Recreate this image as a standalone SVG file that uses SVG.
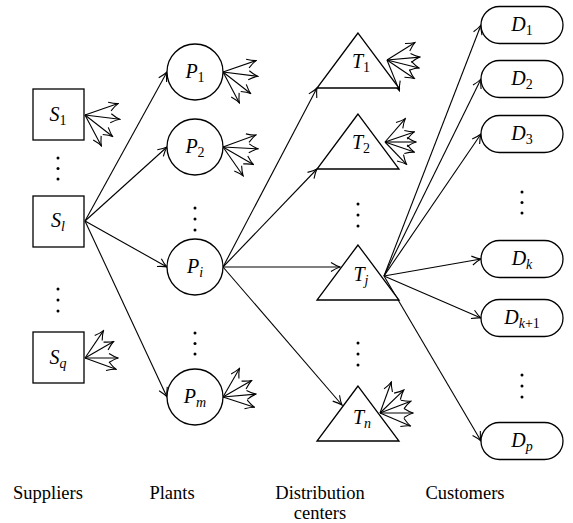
<svg xmlns="http://www.w3.org/2000/svg" width="573" height="523" viewBox="0 0 573 523">
<style>
.nd{fill:#fff;stroke:#000;stroke-width:1.3}
.ln{stroke:#000;stroke-width:1.1;fill:none;marker-end:url(#ah)}
.lb{font-family:'Liberation Serif','Times New Roman','DejaVu Serif',serif;font-size:20px;font-style:italic;text-anchor:middle;fill:#000}
.sb{font-size:14px}
.up{font-style:normal}
.cap{font-family:'Liberation Serif','Times New Roman','DejaVu Serif',serif;font-size:18.5px;text-anchor:middle;fill:#000}
.dot{fill:#000}
</style>
<defs>
<marker id="ah" viewBox="-11 -6 12 12" markerWidth="12" markerHeight="12" refX="0" refY="0" orient="auto" markerUnits="userSpaceOnUse">
<path d="M-9,-4.5 Q-3.5,-1 0,0 Q-3.5,1 -9,4.5" fill="none" stroke="#000" stroke-width="1.1"/>
</marker>
</defs>

<g id="connectors">
<line class="ln" x1="85" y1="221" x2="167" y2="72"/>
<line class="ln" x1="85" y1="221" x2="167" y2="147"/>
<line class="ln" x1="85" y1="221" x2="167" y2="267"/>
<line class="ln" x1="85" y1="221" x2="167" y2="397"/>
<line class="ln" x1="223" y1="267" x2="317" y2="88"/>
<line class="ln" x1="223" y1="267" x2="317" y2="169"/>
<line class="ln" x1="223" y1="267" x2="340" y2="267"/>
<line class="ln" x1="223" y1="267" x2="342" y2="405"/>
<line class="ln" x1="384" y1="276" x2="481" y2="25"/>
<line class="ln" x1="384" y1="276" x2="481" y2="79"/>
<line class="ln" x1="384" y1="276" x2="481" y2="134"/>
<line class="ln" x1="384" y1="276" x2="481" y2="259"/>
<line class="ln" x1="384" y1="276" x2="481" y2="318"/>
<line class="ln" x1="384" y1="276" x2="481" y2="441"/>
<g id="fan-S1">
<line class="ln" x1="85" y1="115" x2="118.1" y2="103.6"/>
<line class="ln" x1="85" y1="115" x2="119.7" y2="119.3"/>
<line class="ln" x1="85" y1="115" x2="112.6" y2="136.5"/>
<line class="ln" x1="85" y1="115" x2="101.4" y2="145.9"/>
</g>
<g id="fan-Sq">
<line class="ln" x1="85" y1="358" x2="103.5" y2="330.6"/>
<line class="ln" x1="85" y1="358" x2="113.6" y2="341.5"/>
<line class="ln" x1="85" y1="358" x2="118" y2="358"/>
<line class="ln" x1="85" y1="358" x2="116" y2="369.3"/>
</g>
<g id="fan-P1">
<line class="ln" x1="223" y1="72" x2="256.1" y2="60.6"/>
<line class="ln" x1="223" y1="72" x2="257.7" y2="76.3"/>
<line class="ln" x1="223" y1="72" x2="250.6" y2="93.5"/>
<line class="ln" x1="223" y1="72" x2="239.4" y2="102.9"/>
</g>
<g id="fan-P2">
<line class="ln" x1="223" y1="147" x2="255.9" y2="135"/>
<line class="ln" x1="223" y1="147" x2="258" y2="148.8"/>
<line class="ln" x1="223" y1="147" x2="253.3" y2="164.5"/>
<line class="ln" x1="223" y1="147" x2="243.1" y2="175.7"/>
</g>
<g id="fan-Pm">
<line class="ln" x1="223" y1="397" x2="239.5" y2="368.4"/>
<line class="ln" x1="223" y1="397" x2="251.6" y2="380.5"/>
<line class="ln" x1="223" y1="397" x2="255.9" y2="394.1"/>
<line class="ln" x1="223" y1="397" x2="254.4" y2="407.2"/>
</g>
<g id="fan-T1">
<line class="ln" x1="387" y1="60" x2="415" y2="42.5"/>
<line class="ln" x1="387" y1="60" x2="419.9" y2="57.1"/>
<line class="ln" x1="387" y1="60" x2="419" y2="68"/>
<line class="ln" x1="387" y1="60" x2="414.4" y2="78.5"/>
<line class="ln" x1="387" y1="60" x2="399.4" y2="90.6"/>
</g>
<g id="fan-T2">
<line class="ln" x1="385" y1="142" x2="405.3" y2="118.6"/>
<line class="ln" x1="385" y1="142" x2="414.3" y2="131.9"/>
<line class="ln" x1="385" y1="142" x2="416" y2="142"/>
<line class="ln" x1="385" y1="142" x2="414.3" y2="152.1"/>
<line class="ln" x1="385" y1="142" x2="406.5" y2="164.3"/>
</g>
<g id="fan-Tn">
<line class="ln" x1="380" y1="413" x2="391.3" y2="382"/>
<line class="ln" x1="380" y1="413" x2="403.7" y2="390.1"/>
<line class="ln" x1="380" y1="413" x2="410.8" y2="401.2"/>
<line class="ln" x1="380" y1="413" x2="413" y2="413"/>
<line class="ln" x1="380" y1="413" x2="410.4" y2="425.9"/>
</g>
</g>

<g id="S1"><rect class="nd" x="33" y="89" width="51" height="51"/><text class="lb" x="58" y="121" font-family="Liberation Serif, serif">S<tspan class="sb up" dy="4">1</tspan></text></g>
<g id="Sl"><rect class="nd" x="33" y="196" width="51" height="51"/><text class="lb" x="58" y="227" font-family="Liberation Serif, serif">S<tspan class="sb" dy="4">l</tspan></text></g>
<g id="Sq"><rect class="nd" x="33" y="332" width="51" height="51"/><text class="lb" x="58" y="364" font-family="Liberation Serif, serif">S<tspan class="sb" dy="4">q</tspan></text></g>
<g id="S-dots"><circle class="dot" cx="58" cy="158" r="1.5"/><circle class="dot" cx="58" cy="168.5" r="1.5"/><circle class="dot" cx="58" cy="179" r="1.5"/><circle class="dot" cx="58" cy="289" r="1.5"/><circle class="dot" cx="58" cy="300" r="1.5"/><circle class="dot" cx="58" cy="311" r="1.5"/></g>

<g id="P1"><circle class="nd" cx="195" cy="72" r="28"/><text class="lb" x="195" y="78">P<tspan class="sb up" dy="4">1</tspan></text></g>
<g id="P2"><circle class="nd" cx="195" cy="147" r="28"/><text class="lb" x="195" y="153">P<tspan class="sb up" dy="4">2</tspan></text></g>
<g id="Pi"><circle class="nd" cx="195" cy="267" r="28"/><text class="lb" x="195" y="273">P<tspan class="sb" dy="4">i</tspan></text></g>
<g id="Pm"><circle class="nd" cx="195" cy="397" r="28"/><text class="lb" x="195" y="403">P<tspan class="sb" dy="4">m</tspan></text></g>
<g id="P-dots"><circle class="dot" cx="195" cy="208" r="1.5"/><circle class="dot" cx="195" cy="219" r="1.5"/><circle class="dot" cx="195" cy="230" r="1.5"/><circle class="dot" cx="195" cy="333" r="1.5"/><circle class="dot" cx="195" cy="343.5" r="1.5"/><circle class="dot" cx="195" cy="354" r="1.5"/></g>

<g id="T1"><polygon class="nd" points="358,33 317,88 399,88"/><text class="lb" x="361" y="68">T<tspan class="sb up" dy="4">1</tspan></text></g>
<g id="T2"><polygon class="nd" points="358,114 317,169 399,169"/><text class="lb" x="361" y="149">T<tspan class="sb up" dy="4">2</tspan></text></g>
<g id="Tj"><polygon class="nd" points="358,245 317,300 399,300"/><text class="lb" x="361" y="281">T<tspan class="sb" dy="4">j</tspan></text></g>
<g id="Tn"><polygon class="nd" points="358,386 317,441 399,441"/><text class="lb" x="362" y="424">T<tspan class="sb" dy="4">n</tspan></text></g>
<g id="T-dots"><circle class="dot" cx="358" cy="204" r="1.5"/><circle class="dot" cx="358" cy="215" r="1.5"/><circle class="dot" cx="358" cy="226" r="1.5"/><circle class="dot" cx="358" cy="343" r="1.5"/><circle class="dot" cx="358" cy="354" r="1.5"/><circle class="dot" cx="358" cy="365" r="1.5"/></g>

<g id="D1"><rect class="nd" x="481" y="6.5" width="82" height="37" rx="18.5"/><text class="lb" x="522" y="31">D<tspan class="sb up" dy="4">1</tspan></text></g>
<g id="D2"><rect class="nd" x="481" y="60.5" width="82" height="37" rx="18.5"/><text class="lb" x="522" y="85">D<tspan class="sb up" dy="4">2</tspan></text></g>
<g id="D3"><rect class="nd" x="481" y="115.5" width="82" height="37" rx="18.5"/><text class="lb" x="522" y="140">D<tspan class="sb up" dy="4">3</tspan></text></g>
<g id="Dk"><rect class="nd" x="481" y="240.5" width="82" height="37" rx="18.5"/><text class="lb" x="522" y="265">D<tspan class="sb" dy="4">k</tspan></text></g>
<g id="Dk1"><rect class="nd" x="481" y="299.5" width="82" height="37" rx="18.5"/><text class="lb" x="522" y="324">D<tspan class="sb" dy="4">k</tspan><tspan class="sb up">+1</tspan></text></g>
<g id="Dp"><rect class="nd" x="481" y="422.5" width="82" height="37" rx="18.5"/><text class="lb" x="522" y="447">D<tspan class="sb" dy="4">p</tspan></text></g>
<g id="D-dots"><circle class="dot" cx="522" cy="192" r="1.5"/><circle class="dot" cx="522" cy="202.5" r="1.5"/><circle class="dot" cx="522" cy="213" r="1.5"/><circle class="dot" cx="522" cy="375" r="1.5"/><circle class="dot" cx="522" cy="386" r="1.5"/><circle class="dot" cx="522" cy="397" r="1.5"/></g>

<g id="captions">
<text class="cap" x="48" y="499">Suppliers</text>
<text class="cap" x="172" y="499">Plants</text>
<text class="cap" x="320" y="499">Distribution</text>
<text class="cap" x="320" y="519">centers</text>
<text class="cap" x="465" y="499">Customers</text>
</g>
</svg>
